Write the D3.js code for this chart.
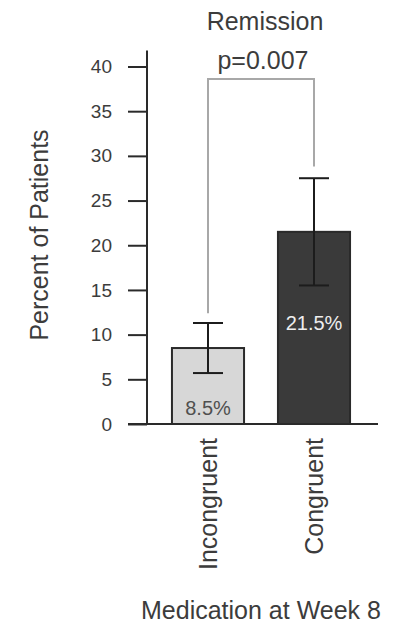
<!DOCTYPE html>
<html>
<head>
<meta charset="utf-8">
<script src="https://cdn.jsdelivr.net/npm/d3@7"></script>
<style>
  body { margin: 0; background: #fff; }
  text { font-family: "Liberation Sans", Arial, sans-serif; fill: #3c3c3c; }
</style>
</head>
<body>
<div id="chart"></div>
<script>
// data
var groups = ["Incongruent", "Congruent"];
var remission = [8.5, 21.5];
var errLow = [5.7, 15.5];
var errHigh = [11.3, 27.5];
var barFills = ["#d7d7d7", "#3a3a3a"];
var yTicks = [0, 5, 10, 15, 20, 25, 30, 35, 40];
var pLabel = "p=0.007";
var bracketTop = 38.6;
var bracketEnds = [12.4, 28.8];

var svgWidth = 411;
var svgHeight = 626;

var svg = d3.select("#chart")
    .append("svg")
    .attr("width", svgWidth)
    .attr("height", svgHeight);

var yScale = d3.scaleLinear()
    .domain([0, 40])
    .range([424, 66.5]);

var xScale = d3.scaleBand()
    .domain(groups)
    .range([155, 367])
    .paddingInner(0.32)
    .paddingOuter(0.16);

var axisX = 147;
var stroke = "#2a2a2a";

// y axis
var leftAxis = d3.axisLeft(yScale)
    .tickValues(yTicks)
    .tickSize(19)
    .tickPadding(16);

var yAxisG = svg.append("g")
    .attr("transform", `translate(${axisX},0)`)
    .call(leftAxis);
yAxisG.select(".domain").remove();
yAxisG.selectAll(".tick line").attr("stroke", stroke).attr("stroke-width", 2);
yAxisG.selectAll(".tick text")
    .attr("font-size", "19px")
    .attr("font-family", "'Liberation Sans', Arial, sans-serif")
    .attr("fill", "#4a4a4a");

svg.append("line")
    .attr("x1", axisX).attr("x2", axisX)
    .attr("y1", yScale(0)).attr("y2", yScale(40) - 16)
    .attr("stroke", stroke).attr("stroke-width", 2);

// bars
svg.selectAll("rect.bar")
    .data(remission)
    .enter().append("rect")
    .attr("class", "bar")
    .attr("x", (d, i) => xScale(groups[i]))
    .attr("y", d => yScale(d))
    .attr("width", xScale.bandwidth())
    .attr("height", d => yScale(0) - yScale(d))
    .attr("fill", (d, i) => barFills[i])
    .attr("stroke", stroke)
    .attr("stroke-width", 2);

// x baseline
svg.append("line")
    .attr("x1", 128).attr("x2", 378)
    .attr("y1", yScale(0)).attr("y2", yScale(0))
    .attr("stroke", stroke).attr("stroke-width", 2);

// error bars
var capHalf = 15;
groups.forEach(function(g, i) {
    var cx = xScale(g) + xScale.bandwidth() / 2;
    var eg = svg.append("g").attr("stroke", "#1c1c1c").attr("stroke-width", 2);
    eg.append("line")
        .attr("x1", cx).attr("x2", cx)
        .attr("y1", yScale(errLow[i])).attr("y2", yScale(errHigh[i]));
    [errLow[i], errHigh[i]].forEach(function(v) {
        eg.append("line")
            .attr("x1", cx - capHalf).attr("x2", cx + capHalf)
            .attr("y1", yScale(v)).attr("y2", yScale(v));
    });
});

// value labels
svg.selectAll("text.val")
    .data(remission)
    .enter().append("text")
    .attr("class", "val")
    .attr("x", (d, i) => xScale(groups[i]) + xScale.bandwidth() / 2)
    .attr("y", (d, i) => i == 0 ? yScale(0) - 9 : yScale(d / 2) + 2)
    .attr("text-anchor", "middle")
    .attr("font-size", "20px")
    .style("fill", (d, i) => i == 0 ? "#505050" : "#eeeeee")
    .text(d => d + "%");

// significance bracket
var c0 = xScale(groups[0]) + xScale.bandwidth() / 2;
var c1 = xScale(groups[1]) + xScale.bandwidth() / 2;
svg.append("path")
    .attr("d", `M${c0},${yScale(bracketEnds[0])}V${yScale(bracketTop)}H${c1}V${yScale(bracketEnds[1])}`)
    .attr("fill", "none")
    .attr("stroke", "#a8a8a8")
    .attr("stroke-width", 2);

svg.append("text")
    .attr("x", 263)
    .attr("y", 69)
    .attr("text-anchor", "middle")
    .attr("font-size", "25px")
    .text(pLabel);

svg.append("text")
    .attr("x", 265)
    .attr("y", 30)
    .attr("text-anchor", "middle")
    .attr("font-size", "25px")
    .text("Remission");

// category labels
svg.selectAll("text.cat")
    .data(groups)
    .enter().append("text")
    .attr("class", "cat")
    .attr("transform", d => `translate(${xScale(d) + xScale.bandwidth() / 2},438) rotate(-90)`)
    .attr("dy", "0.35em")
    .attr("text-anchor", "end")
    .attr("font-size", "25px")
    .text(d => d);

// axis titles
svg.append("text")
    .attr("transform", "translate(48,235) rotate(-90)")
    .attr("text-anchor", "middle")
    .attr("font-size", "25px")
    .text("Percent of Patients");

svg.append("text")
    .attr("x", 261)
    .attr("y", 619)
    .attr("text-anchor", "middle")
    .attr("font-size", "25px")
    .text("Medication at Week 8");
</script>
</body>
</html>
